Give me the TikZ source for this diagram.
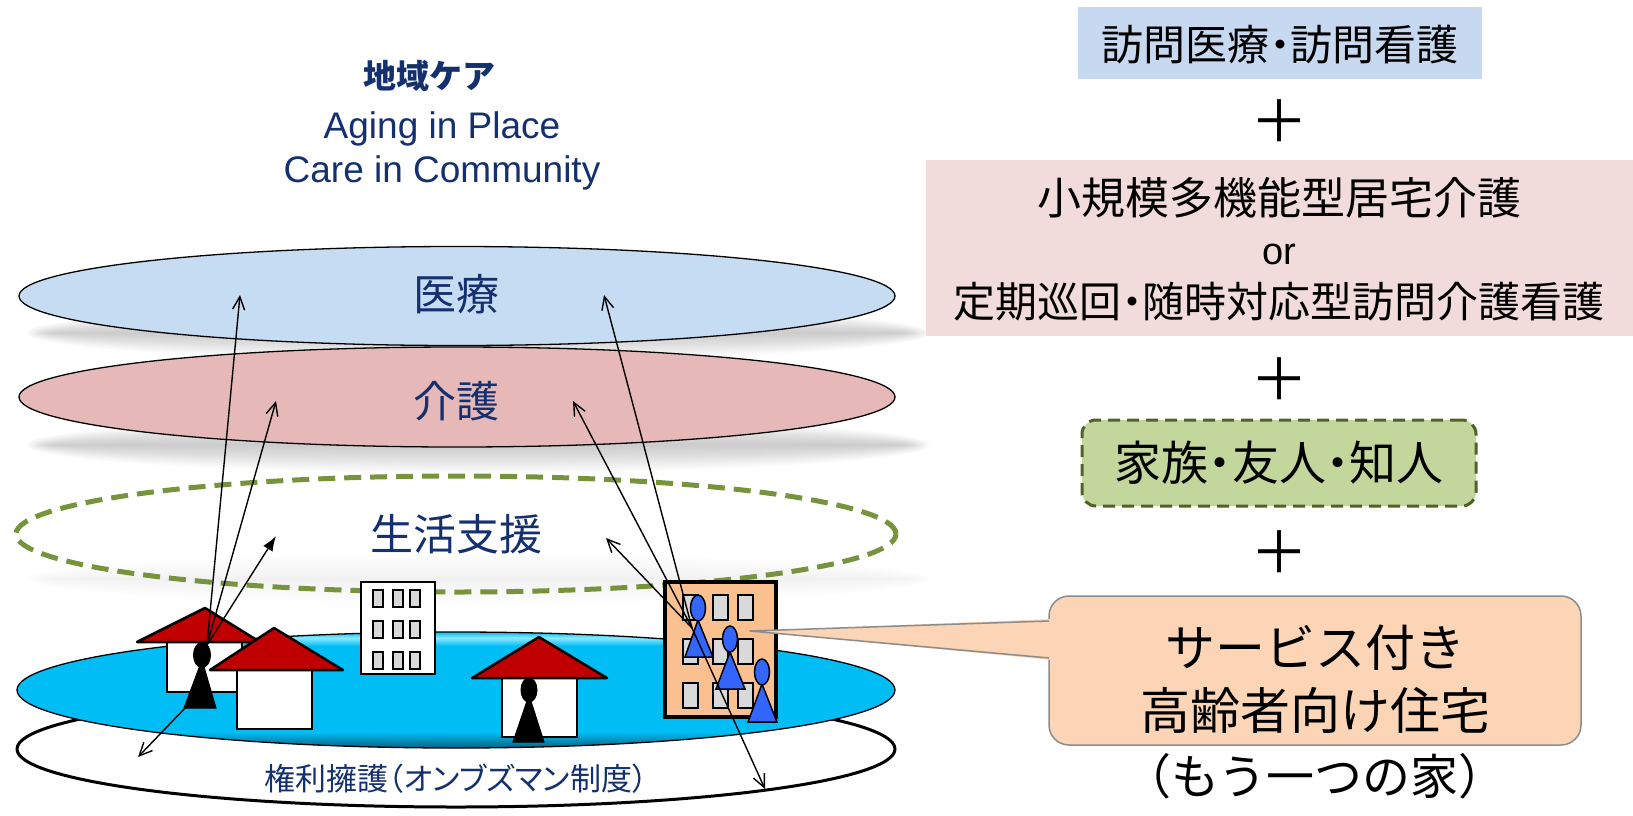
\documentclass[tikz,border=0pt]{standalone}
\usepackage{fontspec}
\usetikzlibrary{arrows.meta,shapes.geometric}
\newfontfamily\jpfont{Noto Sans CJK JP}
\newfontfamily\jpprop{Noto Sans CJK JP}[RawFeature=+palt]
\newfontfamily\latfont{Liberation Sans}
\newcommand\setfs[2]{\fontsize{#1}{#2}\selectfont}
% blurred shadow: centre x, centre y, x radius, y radius, opacity per layer
\newcommand\softshade[5]{%
  \foreach \k in {0,...,13}{%
    \fill[black,opacity=#5] (#1,#2) ellipse [x radius={#3-\k*2}, y radius={max(#4-\k*2,2)}];}}
\definecolor{navytxt}{HTML}{14306E}
\definecolor{medfill}{HTML}{C6DCF3}
\definecolor{kaifill}{HTML}{E6B9B8}
\definecolor{seiline}{HTML}{77933C}
\definecolor{roofred}{HTML}{C00000}
\definecolor{wingrey}{HTML}{D9D9D9}
\definecolor{aptfill}{HTML}{FAC090}
\definecolor{calloutfill}{HTML}{FBD5B5}
\definecolor{calloutline}{HTML}{8C8C8C}
\definecolor{personblue}{HTML}{3366FF}
\definecolor{boxblue}{HTML}{C6D9F1}
\definecolor{boxpink}{HTML}{F2DCDB}
\definecolor{boxgreen}{HTML}{C3D69B}
\definecolor{boxgreenline}{HTML}{4F6228}
\definecolor{discmid}{HTML}{00BEF5}
\definecolor{disctop}{HTML}{8AE8FF}
\definecolor{discbot}{HTML}{0A5F80}
% cyan disc: dark rim at the bottom, light rim near the top
\pgfdeclareverticalshading{discshade}{100bp}{%
  color(0bp)=(discbot); color(25bp)=(discbot); color(28bp)=(discbot!55!discmid);
  color(32bp)=(discmid); color(69bp)=(discmid); color(72.5bp)=(disctop);
  color(75bp)=(discmid); color(100bp)=(discmid)}
\begin{document}
\begin{tikzpicture}[x=1pt,y=-1pt,
  layer/.style={ellipse, inner sep=0pt, minimum width=876pt, minimum height=99pt},
  lbl/.style={font=\jpfont\setfs{43}{50}, text=navytxt, inner sep=0pt},
  rtxt/.style={font=\jpprop\setfs{42}{48}, inner sep=0pt},
  plusmark/.style={font=\jpfont\setfs{58}{58}, inner sep=0pt},
  body/.style={fill=white, draw=black, line width=2.5pt},
  roof/.style={fill=roofred, draw=black, line width=2.5pt, line join=round},
  win/.style={fill=wingrey, draw=black, line width=2pt},
  blackman/.style={fill=black, draw=black, line width=1pt},
  blueman/.style={fill=personblue, draw=black, line width=1.5pt},
  arr/.style={line width=1.4pt, -{Straight Barb[length=13pt,width=12pt,line width=1.4pt]}},
  arrsolid/.style={line width=1.4pt, -{Latex[length=15pt,width=11pt]}}]
\useasboundingbox (0,0) rectangle (1633,815);

% title
\node[font=\jpfont\bfseries\setfs{33}{40}, text=navytxt, inner sep=0pt] (title) at (429,76) {地域ケア};
\node[font=\latfont\setfs{37}{44}, text=navytxt, inner sep=0pt] (titleA) at (442,129) {Aging in Place};
\node[font=\latfont\setfs{37}{44}, text=navytxt, inner sep=0pt] (titleB) at (442,173) {Care in Community};

% soft shadows under the layers
\softshade{478}{333}{452}{28}{0.016}
\softshade{478}{445}{452}{28}{0.016}
\softshade{478}{579}{452}{26}{0.005}

% layers
\node[layer, draw=black, line width=1.3pt, fill=medfill] (med) at (457,296) {};
\node[lbl] (medtxt) at (456,294) {医療};
\node[layer, draw=black, line width=1.3pt, fill=kaifill, minimum height=100pt] (kai) at (457,397) {};
\node[lbl] (kaitxt) at (456,401) {介護};
\node[layer, draw=seiline, line width=5pt, dash pattern=on 17pt off 9pt, minimum width=880pt, minimum height=116pt] (sei) at (456,534) {};
\node[lbl] (seitxt) at (456,534) {生活支援};

% rights advocacy ring and the community disc
\node[layer, draw=black, line width=3pt, fill=white, minimum width=878pt, minimum height=116pt] (rights) at (456,749) {};
\node[font=\jpprop\setfs{31}{36}, text=navytxt, inner sep=0pt] (rightstxt) at (456,779) {権利擁護（オンブズマン制度）};
\node[layer, draw=black, line width=1.3pt, shading=discshade, minimum width=878pt, minimum height=116pt] (disc) at (456,690) {};

% houses
\filldraw[body] (167,642) rectangle (242,692);
\filldraw[roof] (137,642) -- (205,608) -- (260,642) -- cycle;
\filldraw[blackman] (202,660) -- (184,708) -- (216,708) -- cycle;
\filldraw[blackman] (202,655) ellipse [x radius=8.5, y radius=12.5];
\filldraw[body] (237,670) rectangle (312,729);
\filldraw[roof] (210,670) -- (274,628) -- (343,670) -- cycle;

\filldraw[body] (502,678) rectangle (577,737);
\filldraw[roof] (472,678) -- (539,637) -- (607,678) -- cycle;
\filldraw[blackman] (529,695) -- (513,742) -- (544,742) -- cycle;
\filldraw[blackman] (529,690) ellipse [x radius=8, y radius=12];

% office block
\filldraw[body] (361,582) rectangle (435,674);
\foreach \wx in {373,393,410}
  \foreach \wy in {590,621,652}
    \filldraw[win] (\wx,\wy) rectangle ++(10,17);

% serviced housing block
\filldraw[fill=aptfill, draw=black, line width=4pt] (665,582) rectangle (776,717);
\foreach \wx in {683,713,738}
  \foreach \wy in {595,639,683}
    \filldraw[win] (\wx,\wy) rectangle ++(15,25);
\filldraw[blueman] (698,620) -- (685,657) -- (713,657) -- cycle;
\filldraw[blueman] (698,608) ellipse [x radius=7.5, y radius=13];
\filldraw[blueman] (730,652) -- (716,689) -- (745,689) -- cycle;
\filldraw[blueman] (730,639) ellipse [x radius=7.5, y radius=13];
\filldraw[blueman] (762,684) -- (748,722) -- (777,722) -- cycle;
\filldraw[blueman] (762,672) ellipse [x radius=7.5, y radius=13];

% callout
\node[draw=calloutline, fill=calloutfill, line width=1.5pt, rounded corners=20pt, minimum width=532pt, minimum height=149pt, inner sep=0pt] (callout) at (1315,670.5) {};
\coordinate (ptip) at (750,631);
\coordinate (pup) at (1049,621);
\coordinate (plow) at (1049,658);
\fill[calloutfill] (ptip) -- (1052,619) -- (1052,660) -- cycle;
\draw[calloutline, line width=1.5pt, line join=round] (pup) -- (ptip) -- (plow);
\node[font=\jpfont\setfs{50}{63}, align=center, inner sep=0pt] (callouttxt) at (1315,679.5) {サービス付き\\高齢者向け住宅};
\node[font=\jpfont\setfs{48}{56}, inner sep=0pt] (calloutsub) at (1315,776) {（もう一つの家）};

% right-hand column
\node[fill=boxblue, minimum width=404pt, minimum height=72pt, inner sep=0pt] (boxmed) at (1280,43) {};
\node[rtxt] (boxmedtxt) at (1280,45) {訪問医療・訪問看護};
\node[plusmark] (plusA) at (1279,121) {＋};
\node[fill=boxpink, minimum width=707pt, minimum height=176pt, inner sep=0pt] (boxkai) at (1279.5,248) {};
\node[rtxt, font=\jpprop\setfs{44}{50}] (kaiA) at (1279,198) {小規模多機能型居宅介護};
\node[font=\latfont\setfs{38}{40}, inner sep=0pt] (kaiOr) at (1279,254) {or};
\node[rtxt] (kaiB) at (1279,302) {定期巡回・随時対応型訪問介護看護};
\node[plusmark] (plusB) at (1279,379) {＋};
\node[draw=boxgreenline, fill=boxgreen, line width=3pt, dash pattern=on 12pt off 7pt, rounded corners=14pt, minimum width=394pt, minimum height=86pt, inner sep=0pt] (boxfam) at (1279,463) {};
\node[font=\jpprop\setfs{47}{52}, inner sep=0pt] (boxfamtxt) at (1279,463) {家族・友人・知人};
\node[plusmark] (plusC) at (1279,552) {＋};

% reach of care from the homes
\coordinate (homeP) at (207,645);
\coordinate (homeF) at (187,706);
\coordinate (aptP) at (692,628);
\coordinate (medL) at (240,295);
\coordinate (kaiL) at (276,401);
\coordinate (seiL) at (276,536);
\coordinate (rightsL) at (138,757);
\coordinate (medR) at (604,295);
\coordinate (kaiR) at (573,401);
\coordinate (seiR) at (606,538);
\coordinate (rightsR) at (765,789);
\draw[arr] (homeP) -- (medL);
\draw[arr] (homeP) -- (kaiL);
\draw[arrsolid] (homeP) -- (seiL);
\draw[arr] (homeF) -- (rightsL);
\draw[arr] (aptP) -- (medR);
\draw[arr] (aptP) -- (kaiR);
\draw[arr] (aptP) -- (seiR);
\draw[arr] (aptP) -- (rightsR);
\end{tikzpicture}
\end{document}
